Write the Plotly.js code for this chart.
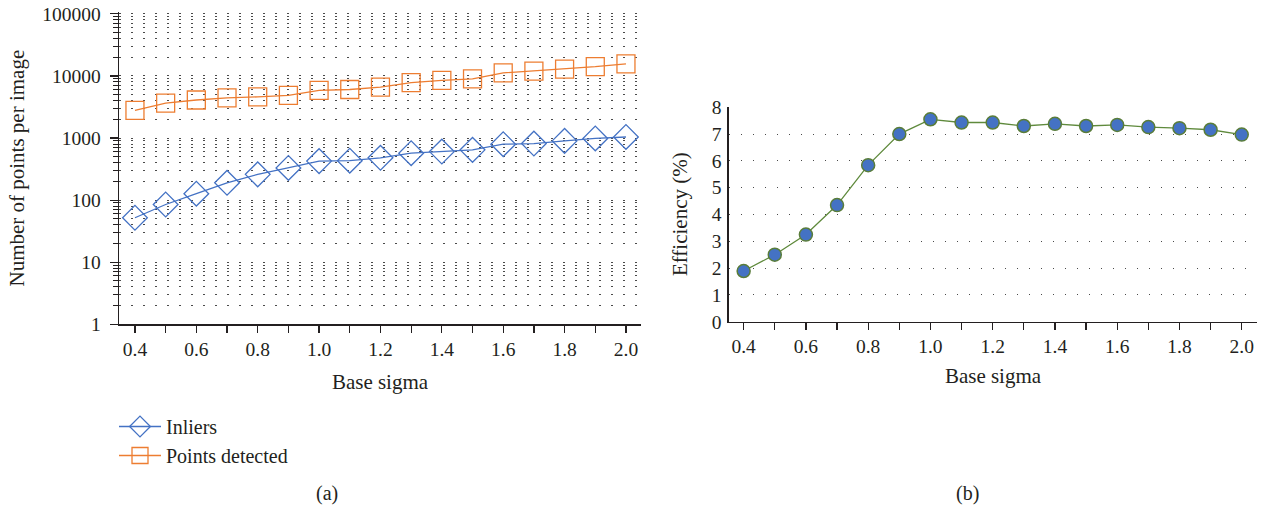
<!DOCTYPE html>
<html>
<head>
<meta charset="utf-8">
<script src="https://cdn.plot.ly/plotly-3.0.1.min.js"></script>
<style>
html,body{margin:0;padding:0;background:#fff;}
#chart{width:1265px;height:507px;}
</style>
</head>
<body>
<div id="chart"></div>
<script>
// Data
const sigma = [0.4,0.5,0.6,0.7,0.8,0.9,1.0,1.1,1.2,1.3,1.4,1.5,1.6,1.7,1.8,1.9,2.0];
const inliers = [52,85,127,190,260,330,425,432,480,570,605,645,795,815,900,985,1040];
const pointsDetected = [2780,3650,4100,4450,4600,4850,5850,6050,6600,7800,8500,9000,11200,12000,12900,14100,15700];
const efficiency = [1.89,2.5,3.25,4.35,5.84,7.0,7.55,7.43,7.43,7.30,7.38,7.30,7.34,7.26,7.22,7.16,6.98];
const seriesNames = ['Inliers','Points detected'];
const xTitle = 'Base sigma';
const yTitleA = 'Number of points per image';
const yTitleB = 'Efficiency (%)';
const captions = ['(a)','(b)'];

const W = 1265, H = 507;
const FONT = 'Liberation Serif, Times New Roman, serif';
const INK = '#231f20';
const GRID = '#4a4a4a';
const DOT = '1.5px,10.5px';
const TICK_SIZE = 19.5;
const TITLE_SIZE = 21;

const traces = [
  {x: sigma, y: inliers, name: seriesNames[0], type: 'scatter', mode: 'lines+markers',
   xaxis: 'x', yaxis: 'y',
   line: {color: '#4472C4', width: 1.3},
   marker: {symbol: 'diamond-open', size: 19, color: '#4472C4', line: {width: 1.3}}},
  {x: sigma, y: pointsDetected, name: seriesNames[1], type: 'scatter', mode: 'lines+markers',
   xaxis: 'x', yaxis: 'y',
   line: {color: '#ED7D31', width: 1.3},
   marker: {symbol: 'square-open', size: 18, color: '#ED7D31', line: {width: 1.3}}},
  {x: sigma, y: efficiency, name: 'Efficiency', type: 'scatter', mode: 'lines+markers',
   xaxis: 'x2', yaxis: 'y2', showlegend: false,
   line: {color: '#5f8a3c', width: 1.3},
   marker: {symbol: 'circle', size: 13, color: '#4472C4', line: {color: '#5a7d3a', width: 1.5}}}
];

function px(v){ return v / W; }
function py(v){ return 1 - v / H; }

function xAxis(domain, range, anchor, standoff){
  return {
    domain: domain, range: range, anchor: anchor,
    showline: true, linecolor: INK, linewidth: 1.3,
    ticks: 'outside', ticklen: 7, tickwidth: 1.2, tickcolor: INK,
    dtick: 0.2, tick0: 0, tickformat: '.1f',
    minor: {dtick: 0.1, tick0: 0, ticks: 'outside', ticklen: 7, tickwidth: 1.2, tickcolor: INK, showgrid: false},
    showgrid: false, zeroline: false,
    tickfont: {family: FONT, size: TICK_SIZE, color: INK},
    title: {text: xTitle, font: {family: FONT, size: TITLE_SIZE, color: INK}, standoff: standoff},
    automargin: false
  };
}

const layout = {
  width: W, height: H,
  margin: {l: 0, r: 0, t: 0, b: 0},
  paper_bgcolor: '#fff', plot_bgcolor: '#fff',
  font: {family: FONT, size: TICK_SIZE, color: INK},
  showlegend: true,
  legend: {x: px(114), y: py(407), xanchor: 'left', yanchor: 'top',
           itemwidth: 42,
           font: {family: FONT, size: 20, color: INK}, bgcolor: 'rgba(0,0,0,0)',
           tracegroupgap: 0},
  xaxis: xAxis([px(119), px(641)], [0.348, 2.049], 'y', 15),
  yaxis: {
    type: 'log', domain: [py(324.3), py(12)], range: [0, 5.03], anchor: 'x',
    showline: true, linecolor: INK, linewidth: 1.3,
    ticks: 'outside', ticklen: 8, tickwidth: 1.2, tickcolor: INK,
    dtick: 1, tickformat: 'd', exponentformat: 'none',
    ticklabelstandoff: 5,
    showgrid: true, gridcolor: GRID, gridwidth: 1, griddash: DOT,
    minor: {dtick: 'D1', ticks: 'outside', ticklen: 5, tickwidth: 1, tickcolor: INK,
            showgrid: true, gridcolor: GRID, gridwidth: 1, griddash: DOT},
    zeroline: false,
    tickfont: {family: FONT, size: TICK_SIZE, color: INK},
    title: {text: yTitleA, font: {family: FONT, size: TITLE_SIZE, color: INK}, standoff: 12},
    automargin: false
  },
  xaxis2: xAxis([px(728.7), px(1257.3)], [0.352, 2.05], 'y2', 12),
  yaxis2: {
    domain: [py(321.7), py(106.7)], range: [0, 8.02], anchor: 'x2',
    showline: true, linecolor: INK, linewidth: 1.3,
    ticks: '', dtick: 1,
    ticklabelstandoff: 2,
    showgrid: true, gridcolor: GRID, gridwidth: 1, griddash: DOT,
    zeroline: false,
    tickfont: {family: FONT, size: TICK_SIZE, color: INK},
    title: {text: yTitleB, font: {family: FONT, size: TITLE_SIZE, color: INK}, standoff: 18},
    automargin: false
  },
  annotations: [
    {text: captions[0], xref: 'paper', yref: 'paper', x: px(327), y: py(493), xanchor: 'center', yanchor: 'middle',
     showarrow: false, font: {family: FONT, size: 20, color: INK}},
    {text: captions[1], xref: 'paper', yref: 'paper', x: px(967), y: py(493), xanchor: 'center', yanchor: 'middle',
     showarrow: false, font: {family: FONT, size: 20, color: INK}}
  ]
};

Plotly.newPlot('chart', traces, layout, {staticPlot: true, displayModeBar: false});
</script>
</body>
</html>
